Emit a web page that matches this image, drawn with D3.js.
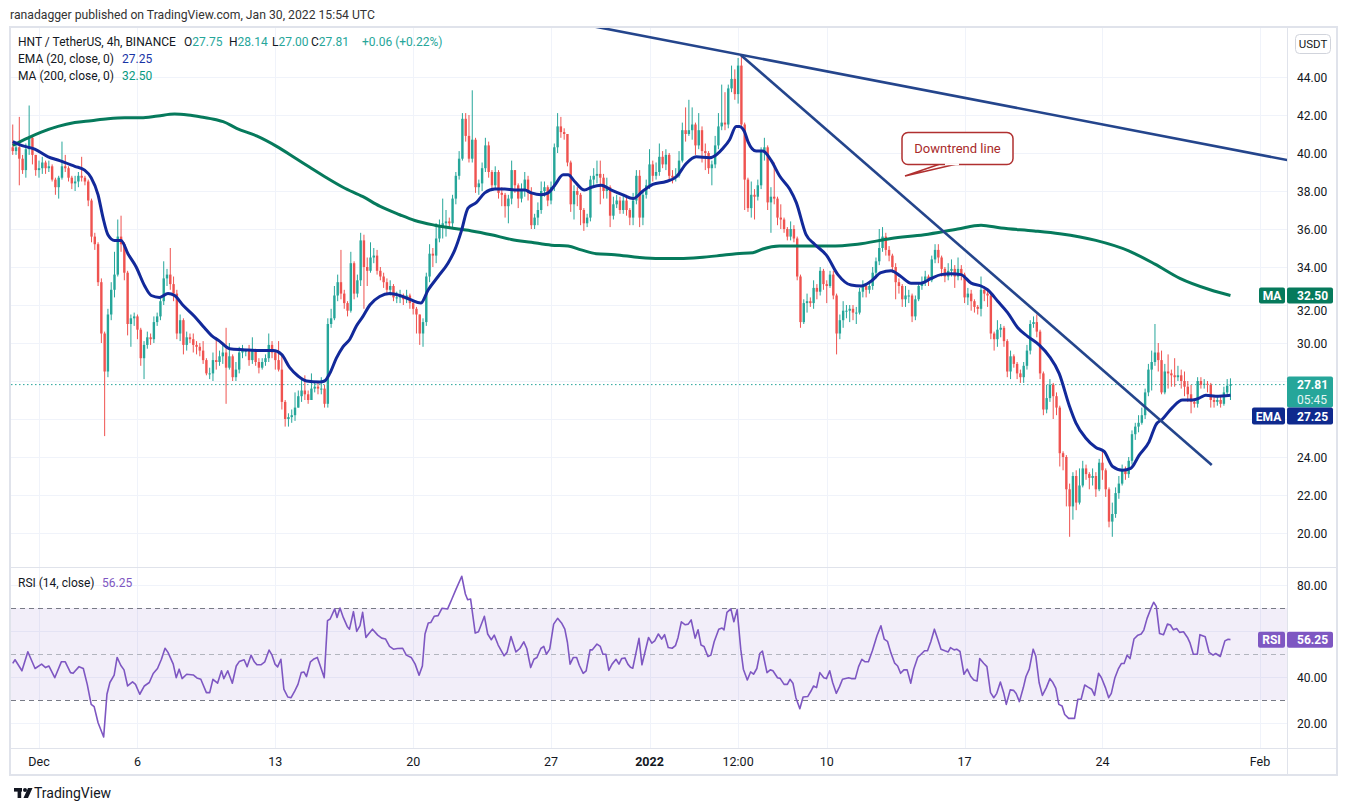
<!DOCTYPE html>
<html><head><meta charset="utf-8">
<script src="https://cdn.jsdelivr.net/npm/d3@7"></script>
<style>body{margin:0;background:#fff;}svg{display:block;font-family:Roboto,"Noto Sans",sans-serif;}</style>
</head><body><svg id="c" width="1347" height="811"></svg>
<script>
// ---------- DATA ----------
const startTime = Date.UTC(2021, 10, 29, 16); // first 4h candle
const stepMs = 4 * 3600 * 1000;
const firstOpen = 40.3;
const closes = [
40.1,40.3,39.7,39.1,40.2,40.8,39.9,39.1,39.2,39.5,
39.2,39.3,38.6,38.2,38.7,39.3,39.2,38.7,38.4,38.5,
38.8,38.7,38.5,37.5,35.6,35.2,33.2,30.5,28.5,31.5,
32.8,33.6,35.6,35.2,33.7,31.0,31.3,31.4,30.7,29.2,
29.9,30.3,30.2,31.1,31.4,32.2,33.4,33.6,33.1,32.6,
30.5,31.2,29.9,30.3,30.2,29.9,29.8,29.6,29.1,28.4,
28.4,29.1,29.0,29.3,29.5,28.7,29.3,28.2,28.6,29.5,
29.6,29.6,29.1,29.6,29.0,28.7,29.0,29.2,29.9,29.5,
29.1,28.6,26.9,26.0,26.1,26.2,26.6,27.2,27.5,27.3,
27.0,27.6,27.7,27.6,27.6,26.8,31.0,31.3,32.5,33.2,
32.6,32.1,31.7,34.2,32.6,33.3,35.4,34.0,33.8,34.5,
34.6,33.8,33.5,33.2,32.8,33.0,32.4,32.4,32.5,32.3,
32.5,32.1,31.8,31.5,30.5,31.1,33.5,34.7,34.6,35.5,
36.1,36.3,36.4,36.3,37.6,38.8,39.7,41.8,40.9,39.7,
40.7,38.2,38.4,39.2,40.4,39.0,38.3,39.0,37.9,37.8,
37.2,37.6,39.1,38.3,37.6,38.0,38.6,37.9,36.2,36.6,
37.0,38.0,38.2,37.5,38.2,40.3,41.4,41.1,41.0,39.5,
37.3,38.0,37.8,37.0,36.3,36.6,38.6,38.8,38.9,38.7,
38.0,38.2,36.7,37.3,37.5,37.0,37.5,37.0,36.6,37.5,
38.8,36.6,37.8,38.3,39.4,38.8,39.0,39.8,39.4,39.9,
38.8,38.7,38.8,39.6,41.2,41.0,41.2,41.5,40.4,41.2,
40.1,40.0,39.2,39.4,40.4,41.4,41.6,41.5,43.4,43.9,
43.1,44.6,41.5,38.6,37.1,37.8,37.7,38.3,40.1,40.3,
37.4,37.7,37.6,36.6,36.5,36.0,35.6,36.0,35.5,33.5,
31.1,32.1,32.2,32.1,32.9,32.7,33.8,33.1,33.0,33.6,
32.5,30.5,31.2,31.7,31.7,31.8,31.6,31.6,32.7,33.0,
32.8,33.0,33.7,34.3,35.0,35.6,34.9,34.6,34.0,33.2,
33.0,32.3,32.5,32.5,31.4,32.3,33.0,33.2,33.5,33.3,
34.4,34.9,34.5,33.9,33.5,33.8,33.9,33.5,33.9,33.6,
32.4,32.6,32.2,31.9,31.8,32.8,32.6,32.5,30.5,30.2,
30.7,30.8,30.1,28.5,29.3,28.9,28.4,28.2,28.8,29.6,
31.0,31.1,30.6,28.4,26.5,27.1,27.8,27.2,26.6,24.2,
24.0,22.3,21.4,23.0,21.6,22.5,23.4,23.1,22.9,23.0,
22.3,23.7,23.3,22.3,20.6,21.0,22.1,22.6,23.3,23.1,
23.8,25.2,25.6,25.8,26.2,27.4,28.6,29.0,29.5,29.1,
27.4,28.5,28.4,28.3,28.2,28.3,28.0,27.7,27.3,26.9,
26.8,28.0,27.8,27.85,27.8,27.0,26.9,27.0,26.8,27.4,27.75,27.81];
const highs = [
41.5,40.6,41.9,39.9,40.5,42.5,40.9,39.9,39.6,39.8,
39.6,39.6,39.4,38.7,38.8,40.6,39.9,39.3,38.8,38.8,
39.0,39.8,38.8,38.6,37.6,35.8,35.3,33.4,30.6,31.8,
33.2,34.8,36.5,36.7,35.3,33.8,31.5,31.6,31.5,30.8,
30.1,30.6,30.5,31.4,31.6,32.4,34.3,33.9,35.0,33.5,
32.8,31.5,31.3,30.6,30.5,30.5,30.1,30.0,30.1,29.2,
28.7,29.5,30.3,29.6,29.9,30.8,30.0,29.4,29.0,29.8,
29.9,29.7,29.9,30.3,29.7,29.2,29.2,29.4,30.5,30.1,
29.6,30.1,29.4,27.0,26.3,26.5,27.4,27.5,28.1,28.3,
27.5,28.4,28.0,28.0,28.2,27.8,31.3,31.8,33.0,33.6,
34.9,32.8,32.2,34.8,34.3,33.6,35.8,35.7,34.5,35.3,
35.0,34.9,34.0,33.7,33.4,33.3,33.1,32.7,32.8,32.6,
32.8,32.6,32.2,31.9,31.5,31.3,33.7,35.2,35.0,36.3,
36.5,37.6,37.0,36.6,37.8,39.0,40.1,42.1,42.1,42.0,
43.3,40.8,38.6,39.5,40.8,40.6,39.1,39.3,39.1,38.2,
37.9,37.8,39.6,39.1,38.4,38.4,39.0,38.8,38.2,36.8,
37.4,38.5,38.5,38.3,38.5,40.5,42.1,41.9,41.3,40.9,
39.6,38.3,38.2,37.9,37.1,36.8,38.8,39.2,39.6,39.6,
38.9,38.7,38.3,37.7,37.8,37.7,37.8,37.8,37.1,37.9,
39.1,39.1,38.0,38.6,40.2,39.6,39.5,40.5,40.1,40.2,
40.0,39.1,39.2,40.1,41.6,42.4,42.8,42.4,41.6,42.1,
41.4,40.5,40.1,39.6,40.9,42.1,43.6,43.2,43.6,44.6,
44.4,45.0,45.2,41.6,38.7,38.5,38.1,38.6,40.3,40.8,
40.4,38.2,39.5,37.7,37.3,36.6,36.1,36.4,36.2,35.6,
33.6,32.3,32.6,32.4,33.3,33.1,34.0,33.9,33.3,33.8,
33.8,32.6,31.5,32.2,32.0,32.0,32.0,31.9,32.9,33.3,
33.1,33.2,34.0,34.5,36.0,36.1,35.8,35.1,34.7,34.2,
33.4,33.1,33.0,32.8,32.6,32.5,33.2,33.5,33.8,33.6,
34.6,35.2,35.2,34.6,34.0,34.2,34.4,34.1,34.5,34.1,
33.7,32.9,32.8,32.3,32.0,33.5,33.0,32.8,32.6,30.6,
31.2,31.0,30.9,30.2,29.6,29.4,29.0,28.6,29.0,29.9,
31.2,31.4,31.5,30.7,28.5,27.8,28.1,27.9,27.4,26.7,
24.3,24.1,22.6,23.2,23.3,23.4,23.8,23.6,23.2,23.4,
23.2,23.9,24.4,23.4,22.4,21.6,22.4,23.0,23.6,23.5,
24.0,25.4,25.8,26.2,26.6,27.6,28.9,29.6,31.0,30.0,
29.6,28.9,29.4,28.6,29.2,28.8,28.6,28.5,28.0,27.8,
27.1,28.2,28.2,28.1,28.0,27.9,27.2,27.2,27.2,27.7,28.1,28.14];
const lows = [
39.9,39.9,38.3,38.9,38.7,39.9,39.4,38.8,38.7,38.9,
38.9,39.0,38.5,37.8,37.6,38.6,39.0,38.5,38.1,38.0,
38.2,38.5,38.3,37.2,35.3,34.9,33.0,30.0,25.1,28.2,
31.2,32.4,33.5,34.8,33.3,30.4,29.8,30.9,30.2,28.8,
28.1,29.7,29.9,30.0,30.9,31.2,32.0,33.0,32.8,32.2,
30.2,30.1,29.4,29.6,30.0,29.5,29.4,29.3,28.9,28.3,
28.1,28.0,28.6,28.8,28.9,26.8,28.6,28.0,28.0,28.4,
29.2,29.3,28.8,28.9,28.8,28.4,28.6,28.8,29.0,29.2,
28.6,28.5,26.5,25.6,25.6,25.8,25.9,26.6,26.9,27.0,
26.8,27.0,27.4,27.3,27.3,26.6,26.6,30.8,31.2,32.2,
32.3,31.8,31.4,31.6,32.3,32.4,33.0,31.8,33.0,33.7,
34.2,33.6,33.3,32.9,32.6,32.5,32.2,32.1,32.1,32.0,
32.1,31.8,31.5,30.5,29.9,29.8,30.9,33.2,34.0,34.2,
35.3,35.5,35.6,36.0,36.1,37.3,38.6,39.6,40.6,39.5,
39.5,37.9,37.8,38.0,39.0,38.7,38.0,38.1,37.6,37.2,
36.6,36.3,37.3,37.9,37.1,37.4,37.7,37.5,36.0,36.0,
36.2,36.8,37.7,37.2,37.3,38.0,40.0,40.8,40.7,39.3,
36.9,36.5,37.2,36.2,35.9,36.1,36.4,38.2,38.4,37.3,
37.6,37.6,36.1,36.5,37.1,36.8,36.8,36.7,36.2,36.2,
37.3,36.1,36.2,37.6,38.1,38.5,38.6,38.8,39.2,39.1,
38.5,38.4,38.5,38.7,39.5,40.6,40.9,40.7,39.9,40.2,
39.5,39.1,38.9,38.3,39.2,40.2,41.2,41.2,41.3,43.2,
42.8,42.6,41.3,37.0,36.9,36.6,36.5,37.5,38.1,39.6,
37.0,35.8,37.3,36.2,36.0,35.8,35.4,35.4,35.3,33.3,
30.8,31.0,31.6,31.9,31.8,32.3,32.5,32.8,32.1,32.9,
32.3,29.4,30.2,30.8,31.3,31.1,31.2,31.0,31.5,32.4,
32.4,32.6,32.8,33.4,34.1,34.8,34.6,34.3,33.7,32.3,
32.6,31.9,31.9,32.1,31.1,31.2,32.2,32.8,33.0,33.0,
33.2,34.2,34.2,33.5,33.2,33.3,33.5,32.9,33.3,33.3,
32.1,32.0,31.7,31.6,31.5,31.4,32.2,31.9,30.2,29.6,
29.8,30.3,29.8,28.2,28.1,28.7,28.1,27.9,27.9,28.6,
29.4,30.8,30.3,28.1,26.2,26.3,26.9,26.0,26.2,23.5,
23.3,21.4,19.8,20.7,21.2,21.5,22.4,22.8,22.3,22.5,
21.9,22.2,22.8,21.9,20.3,19.8,20.8,21.8,22.5,22.8,
22.9,23.6,24.9,25.3,25.7,26.0,27.2,27.5,28.8,28.5,
27.3,27.3,27.6,27.7,27.7,28.0,27.6,27.2,26.9,26.3,
26.6,26.6,27.6,27.6,27.4,26.6,26.6,26.7,26.6,26.7,27.3,27.0];
// EMA(20) and MA(200) as read: [candle index, value]
const emaPts = [[0,40.6],[2.6,40.4],[6.7,40.2],[10.8,39.8],[14.3,39.6],[18.9,39.3],[21.9,39.1],[23.9,38.7],[26,37.8],[27.5,36.6],[29,35.7],[31,35.4],[33,35.4],[35.1,34.7],[37.6,34.0],[40.2,33.0],[42.2,32.5],[44.7,32.4],[47.3,32.6],[49.3,32.5],[51.8,32.0],[55.4,31.4],[58.4,30.8],[60.5,30.4],[63,30.1],[66.1,29.7],[70.2,29.65],[75.3,29.6],[79.3,29.6],[81.9,29.4],[84.4,28.7],[87,28.25],[89.5,28.0],[93.5,27.95],[95,28.0],[96.6,28.4],[98.6,29.2],[100.6,29.8],[102.7,30.2],[104.7,30.9],[106.7,31.4],[108.8,32.0],[111.8,32.45],[114.9,32.6],[117.9,32.5],[121,32.3],[124.3,32.1],[126.6,32.8],[129.6,33.5],[132.6,34.2],[134.7,34.9],[136.7,35.9],[138.7,37.1],[141.3,37.4],[143.8,37.9],[146.9,38.1],[149.9,38.1],[152.9,38.05],[156,38.05],[158,37.9],[161,37.8],[163.1,37.9],[165.1,38.3],[167.7,38.85],[169.2,38.85],[171.2,38.5],[174.2,38.05],[176.3,38.2],[179.3,38.3],[182.4,38.05],[185.9,37.8],[189,37.6],[192,38.0],[195,38.35],[199.1,38.5],[202.2,38.75],[205.2,39.45],[208.2,39.8],[212.3,39.75],[214.3,39.9],[216.4,40.25],[218.4,40.7],[220.4,41.4],[221.4,41.4],[223,41.1],[224,40.6],[226.5,40.1],[228.5,40.1],[231.1,39.6],[233.6,38.8],[236.7,38.1],[238.7,37.4],[241.7,35.7],[244.3,35.2],[248,34.6],[251.4,33.6],[255.4,33.05],[258.5,33.0],[261.5,33.25],[264.5,33.7],[267.6,33.8],[270.6,33.5],[273.7,33.15],[276.7,33.15],[279.8,33.4],[282.8,33.6],[285.9,33.65],[288.9,33.6],[292,33.15],[295,33.0],[297,32.8],[300.1,32.2],[303.1,31.6],[306.2,30.8],[309.2,30.35],[312.7,29.9],[315.8,29.3],[318.8,28.4],[321.9,26.7],[323.9,25.8],[326.9,25.0],[330,24.5],[332.5,24.3],[335.1,23.5],[338.1,23.3],[340.6,23.4],[343.2,24.1],[346.2,24.8],[348.3,25.7],[350.3,26.0],[353.3,26.6],[356.4,27.0],[359.4,27.0],[361.5,27.1],[363.5,27.25],[366.5,27.2],[371,27.25]];
const maPts = [[0,40.4],[4.7,40.8],[8.7,41.1],[13.8,41.4],[18.9,41.6],[23.9,41.7],[29,41.8],[34.1,41.85],[39.1,41.85],[44.2,41.95],[49.3,42.05],[53.4,42.0],[57.4,41.9],[62,41.75],[64.1,41.65],[68.2,41.3],[74.3,40.9],[80.4,40.35],[86.4,39.7],[90.5,39.25],[95.6,38.7],[100.6,38.2],[106.7,37.7],[111.8,37.2],[117.9,36.75],[122.5,36.45],[128.6,36.2],[135.7,36.0],[139.8,35.9],[145.8,35.7],[151.9,35.45],[158,35.3],[164.1,35.15],[169.2,35.1],[173.2,34.9],[177.8,34.7],[183.4,34.65],[191,34.5],[197.1,34.45],[203.2,34.45],[209.3,34.5],[215.3,34.6],[220.4,34.7],[225.5,34.75],[228.5,34.95],[233.6,35.1],[238.7,35.1],[243.8,35.1],[248.8,35.1],[257.4,35.2],[267.6,35.5],[277.7,35.7],[287.9,36.0],[295,36.2],[301.1,36.05],[311.2,35.9],[319,35.75],[330,35.4],[340,34.85],[348,34.15],[355.6,33.4],[364.8,32.8],[371,32.5]];
const rsiPts = [[0,45.9],[0.7,47.5],[2.8,42.7],[4.6,51.0],[6.8,43.7],[8.8,45.6],[10,44.1],[11,44.8],[12.8,39.7],[14.8,46.6],[16,46.6],[17.6,41.9],[18.4,41.6],[20.2,44.5],[21.5,43.7],[22.7,36.8],[23.9,28.1],[24.8,27.1],[26,20.1],[27.7,13.9],[28.7,32.5],[29.6,37.6],[30.9,40.8],[31.8,48.5],[32.9,45.1],[33.9,43.1],[35,36.1],[36.5,37.9],[37.4,36.8],[38.7,32.5],[40.1,36.1],[41.6,37.6],[42.8,41.5],[44.1,43.7],[45.3,47.7],[46.4,52.5],[47.3,50.7],[48.9,45.6],[49.8,39.7],[50.7,43.4],[51.6,39.3],[53,41.2],[55,40.9],[56.1,39.6],[57.3,39.0],[59,33.2],[60,33.2],[61,39.0],[62.4,37.3],[63.6,42.7],[64.3,39.3],[65.5,42.7],[66.9,37.3],[68.1,44.8],[69,46.7],[70.5,47.5],[71.4,44.5],[72.6,49.5],[73.6,46.6],[74.4,45.3],[75.6,45.3],[76.8,46.6],[78.1,51.7],[79,49.5],[79.9,45.6],[80.7,44.4],[81.7,47.7],[82.6,34.7],[83.8,31.3],[84.8,31.0],[85.9,33.9],[86.9,36.8],[87.9,41.9],[88.7,42.2],[89.5,40.2],[90.7,46.6],[91.6,47.7],[92.8,48.5],[93.7,44.8],[94.9,39.7],[95.9,64.5],[96.7,65.2],[98.1,69.6],[98.8,65.9],[99.7,70.0],[100.7,65.9],[101.9,62.0],[102.6,60.8],[103.8,68.4],[104.8,59.8],[105.8,62.3],[106.6,68.1],[107.6,57.2],[108.4,58.7],[109.6,60.8],[111.2,58.2],[112.4,56.9],[113.6,56.5],[114.8,53.3],[116,52.1],[117.2,52.4],[118.8,52.5],[119.9,49.5],[121.4,48.5],[122.6,45.6],[123.8,40.8],[124.8,44.8],[125.6,58.7],[126.6,63.5],[127.4,63.7],[128.4,66.4],[129.6,66.7],[130.8,69.9],[132.5,69.6],[133.7,73.6],[135,78.0],[136.8,83.8],[137.9,76.1],[138.6,73.6],[139.5,73.9],[140.9,59.1],[141.9,59.7],[143.7,66.4],[144.7,58.7],[145.8,56.2],[146.7,58.2],[147.9,53.9],[149.7,49.2],[150.6,50.7],[151.8,57.6],[153.3,50.9],[154.5,52.4],[155.7,55.3],[156.6,52.4],[157.8,44.1],[158.8,47.7],[159.7,48.5],[160.9,52.4],[161.8,53.3],[162.6,49.9],[163.6,52.1],[164.8,63.0],[166,65.5],[167.2,63.5],[168.2,60.8],[169,55.0],[169.8,45.6],[170.8,48.5],[171.8,48.5],[172.6,45.1],[173.8,41.6],[174.7,42.7],[175.9,51.8],[176.6,51.8],[178,54.3],[179,53.3],[179.8,49.9],[180.7,49.9],[181.6,42.9],[182.6,45.6],[183.8,47.7],[184.7,45.6],[185.5,48.0],[186.5,48.3],[187.4,45.6],[188.2,44.2],[188.9,43.8],[190.8,56.8],[191.7,45.3],[193.7,57.2],[194.7,54.7],[195.6,55.7],[196.7,58.7],[197.7,56.5],[198.6,58.4],[199.7,52.8],[200.9,52.5],[201.9,53.6],[202.7,57.2],[203.7,64.0],[204.9,62.7],[205.8,63.0],[206.7,64.8],[207.9,56.9],[208.8,60.5],[209.7,53.9],[210.6,53.3],[211.8,48.9],[212.7,49.5],[213.7,55.3],[215.1,60.8],[216.1,61.3],[216.7,60.5],[217.6,68.1],[218.8,69.6],[219.7,64.0],[220.7,69.3],[221.8,52.1],[222.6,43.4],[223.8,38.7],[224.8,42.2],[225.7,41.2],[226.7,43.7],[227.6,50.2],[228.4,51.3],[229.8,41.9],[230.8,43.1],[231.6,42.7],[233,39.7],[233.8,39.4],[235,36.8],[236,36.8],[236.8,39.0],[237.7,37.3],[238.6,31.0],[239.8,26.2],[240.8,31.3],[242.2,31.5],[243.2,33.9],[244,36.1],[244.9,35.4],[245.9,41.9],[247.1,39.7],[247.9,39.3],[248.9,42.7],[249.8,37.6],[250.9,32.9],[251.9,35.8],[252.8,39.0],[254.7,39.7],[255.5,39.3],[256.7,39.3],[257.7,44.5],[258.7,47.7],[259.7,46.6],[260.7,46.6],[261.9,51.4],[263.3,57.9],[264.5,62.3],[265.5,56.5],[266.5,55.5],[267.5,50.7],[268.7,46.0],[269.6,44.8],[270.5,41.6],[271.5,43.1],[272.5,43.1],[273.6,37.3],[274.5,43.4],[275.7,48.5],[276.8,50.0],[277.8,51.4],[278.7,51.4],[279.7,55.3],[280.8,60.8],[281.8,56.5],[282.8,52.1],[284,51.4],[285,50.9],[285.7,52.8],[286.8,51.8],[287.6,52.1],[288.6,51.1],[289.8,41.2],[290.8,43.4],[291.9,40.2],[292.8,38.7],[293.8,38.3],[294.6,48.0],[295.8,46.0],[296.8,44.5],[297.9,33.2],[298.9,31.0],[299.8,32.9],[300.9,37.8],[301.9,33.2],[302.7,28.1],[303.9,34.4],[304.9,34.2],[305.7,32.8],[306.7,29.3],[307.9,35.4],[308.7,40.2],[309.7,43.4],[310.9,52.1],[311.7,49.0],[312.7,37.6],[313.7,32.0],[314.9,35.4],[316,39.3],[316.9,37.6],[317.8,35.1],[318.7,28.1],[319.7,27.4],[320.5,23.7],[321.7,22.0],[323.5,22.0],[324.5,30.3],[325.5,30.3],[326.6,36.5],[327.5,35.7],[328.7,34.7],[329.6,32.0],[330.8,41.6],[331.7,39.7],[332.9,35.4],[333.9,31.0],[334.7,32.9],[335.8,39.7],[336.8,43.4],[337.8,45.9],[338.6,45.9],[339.5,49.5],[340.4,48.0],[341.6,56.5],[342.8,58.2],[343.8,58.7],[344.6,60.4],[345.6,65.5],[346.7,69.6],[347.6,72.5],[348.4,70.7],[349.4,58.9],[350.6,58.4],[351.8,63.0],[352.7,62.6],[353.6,60.5],[354.6,61.1],[355.5,59.4],[356.7,59.7],[357.9,57.2],[358.7,54.7],[359.7,49.9],[360.9,49.9],[361.7,58.4],[363.3,57.5],[364.5,50.7],[365.7,49.5],[366.5,50.2],[367.9,48.9],[369.3,55.7],[370.3,56.4],[371,56.25]];
// trend lines: [candle index, price] endpoints
const trendLines = [[[176.8,46.67],[388.3,39.63]], [[221.8,45.16],[365.3,23.58]]];
const priceTicks = [20,22,24,26,28,30,32,34,36,38,40,42,44];
const rsiTicks = [20,40,60,80];
const dateTicks = [["2021-12-01","Dec"],["2021-12-06","6"],["2021-12-13","13"],["2021-12-20","20"],["2021-12-27","27"],["2022-01-01","2022"],["2022-01-05T12:00","12:00"],["2022-01-10","10"],["2022-01-17","17"],["2022-01-24","24"],["2022-02-01","Feb"]];
const lastPrice = 27.81, emaLast = 27.25, maLast = 32.50, rsiLast = 56.25;

// ---------- LAYOUT ----------
const svg = d3.select("#c");
const L = 11, R = 1287, T = 28, MB = 567, RT = 568, RB = 748;
const UP = "#26a69a", DN = "#ef5350", GRID = "#f0f3fa", BORDER = "#e0e3eb", TXT = "#131722";
const EMAC = "#12299a", MAC = "#067a5c", TLC = "#24458c", RSIC = "#7e57c2";

const x = d3.scaleUtc().domain([Date.UTC(2021,11,1), Date.UTC(2022,1,1)]).range([39, 1260]);
const xi = i => x(new Date(startTime + i * stepMs));
const y = d3.scaleLinear().domain([20, 44]).range([533, 77]);
const yr = d3.scaleLinear().domain([20, 80]).range([723, 585]);

svg.append("rect").attr("width",1347).attr("height",811).attr("fill","#fff");
const defs = svg.append("defs");
defs.append("clipPath").attr("id","cm").append("rect").attr("x",L).attr("y",T).attr("width",R-L).attr("height",MB-T);
defs.append("clipPath").attr("id","cr").append("rect").attr("x",L).attr("y",RT).attr("width",R-L).attr("height",RB-RT);

// grid
const g = svg.append("g");
const parseT = s => new Date(s + (s.length > 10 ? ":00Z" : "T00:00:00Z"));
dateTicks.forEach(([d]) => {
  const xx = Math.round(x(parseT(d))) + 0.5;
  g.append("line").attr("x1",xx).attr("x2",xx).attr("y1",T).attr("y2",RB).attr("stroke",GRID);
});
priceTicks.forEach(p => {
  const yy = Math.round(y(p)) + 0.5;
  g.append("line").attr("x1",L).attr("x2",R).attr("y1",yy).attr("y2",yy).attr("stroke",GRID);
});
rsiTicks.forEach(v => {
  const yy = Math.round(yr(v)) + 0.5;
  g.append("line").attr("x1",L).attr("x2",R).attr("y1",yy).attr("y2",yy).attr("stroke",GRID);
});

// RSI band
g.append("rect").attr("x",L).attr("y",yr(70)).attr("width",R-L).attr("height",yr(30)-yr(70)).attr("fill","rgba(126,87,194,0.1)");
[[70,"#787b86"],[30,"#787b86"],[50,"#b2b5be"]].forEach(([v,c]) => {
  g.append("line").attr("x1",L).attr("x2",R).attr("y1",Math.round(yr(v))+0.5).attr("y2",Math.round(yr(v))+0.5)
   .attr("stroke",c).attr("stroke-dasharray","5,4");
});

// borders
const fb = svg.append("g").attr("stroke",BORDER).attr("fill","none");
fb.append("rect").attr("x",10).attr("y",27).attr("width",1327).attr("height",748).attr("stroke-width",2);
fb.append("line").attr("x1",R+0.5).attr("x2",R+0.5).attr("y1",27).attr("y2",775);
fb.append("line").attr("x1",10).attr("x2",1337).attr("y1",567.5).attr("y2",567.5);
fb.append("line").attr("x1",10).attr("x2",1337).attr("y1",748.5).attr("y2",748.5);

// main pane
const mp = svg.append("g").attr("clip-path","url(#cm)");
mp.append("line").attr("x1",L).attr("x2",R).attr("y1",y(lastPrice)).attr("y2",y(lastPrice))
  .attr("stroke",UP).attr("stroke-width",1).attr("stroke-dasharray","1.5,2.5");

const n = Math.min(closes.length, highs.length, lows.length);
const candles = d3.range(n).map(i => ({i, o: i ? closes[i-1] : firstOpen, c: closes[i], h: highs[i], l: lows[i]}));
const cg = mp.append("g");
cg.selectAll("line.w").data(candles).join("line")
  .attr("x1", d => xi(d.i)).attr("x2", d => xi(d.i))
  .attr("y1", d => y(Math.max(d.h, d.o, d.c))).attr("y2", d => y(Math.min(d.l, d.o, d.c)))
  .attr("stroke", d => d.c >= d.o ? UP : DN).attr("stroke-width",1);
cg.selectAll("rect").data(candles).join("rect")
  .attr("x", d => xi(d.i) - 1.2).attr("width", 2.4)
  .attr("y", d => y(Math.max(d.o, d.c)))
  .attr("height", d => Math.max(1, Math.abs(y(d.o) - y(d.c))))
  .attr("fill", d => d.c >= d.o ? UP : DN);

const lineGen = d3.line().x(d => xi(d[0])).y(d => y(d[1])).curve(d3.curveMonotoneX);
mp.append("path").attr("d", lineGen(maPts)).attr("fill","none").attr("stroke",MAC).attr("stroke-width",3);
mp.append("path").attr("d", lineGen(emaPts)).attr("fill","none").attr("stroke",EMAC).attr("stroke-width",3);
const tl = d3.line().x(d => xi(d[0])).y(d => y(d[1]));
trendLines.forEach(t => mp.append("path").attr("d", tl(t)).attr("fill","none").attr("stroke",TLC).attr("stroke-width",2.6));

// callout
const co = svg.append("g");
co.append("path").attr("d","M943,163 L905,176 L961,163 Z").attr("fill","#fff").attr("stroke","#b03030").attr("stroke-width",1.5);
co.append("rect").attr("x",902).attr("y",132.5).attr("width",111).attr("height",32).attr("rx",6)
  .attr("fill","#fff").attr("stroke","#b03030").attr("stroke-width",1.5);
co.append("path").attr("d","M945,164.2 L959,164.2").attr("stroke","#fff").attr("stroke-width",2);
co.append("text").attr("x",957.5).attr("y",153).attr("text-anchor","middle").attr("font-size",13).attr("fill","#a82a2a").text("Downtrend line");

// RSI pane
const rp = svg.append("g").attr("clip-path","url(#cr)");
rp.append("path").attr("d", d3.line().x(d => xi(d[0])).y(d => yr(d[1]))(rsiPts))
  .attr("fill","none").attr("stroke",RSIC).attr("stroke-width",1.6).attr("stroke-linejoin","round");

// right axis labels (ticks hidden behind value tags are skipped, as in the reference)
const ax = svg.append("g").attr("font-size",12).attr("fill",TXT);
const hiddenPrice = [26, 28], hiddenRsi = [60];
priceTicks.filter(p => !hiddenPrice.includes(p)).forEach(p =>
  ax.append("text").attr("x",1297).attr("y",y(p) + (p === 32 ? 9.5 : 4.5)).text(p.toFixed(2)));
rsiTicks.filter(v => !hiddenRsi.includes(v)).forEach(v => ax.append("text").attr("x",1297).attr("y",yr(v)+4.5).text(v.toFixed(2)));
svg.append("rect").attr("x",1295.5).attr("y",34.5).attr("width",35).attr("height",19).attr("rx",4).attr("fill","#fff").attr("stroke","#d1d4dc");
svg.append("text").attr("x",1313).attr("y",48).attr("text-anchor","middle").attr("font-size",11.5).attr("fill",TXT).text("USDT");

function tag(xa, w, cy, h, fill, txt){
  svg.append("rect").attr("x",xa).attr("y",cy-h/2).attr("width",w).attr("height",h).attr("rx",2).attr("fill",fill);
  svg.append("text").attr("x",xa+w/2).attr("y",cy+4.5).attr("text-anchor","middle").attr("font-size",12).attr("font-weight","bold").attr("fill","#fff").text(txt);
}
function vtag(cy, h, fill, txt){
  svg.append("rect").attr("x",1287).attr("y",cy-h/2).attr("width",46).attr("height",h).attr("rx",2).attr("fill",fill);
  svg.append("text").attr("x",1297).attr("y",cy+4.5).attr("font-size",12).attr("font-weight","bold").attr("fill","#fff").text(txt);
}
tag(1259, 26, y(maLast), 16, MAC, "MA"); vtag(y(maLast), 16, MAC, maLast.toFixed(2));
svg.append("rect").attr("x",1287).attr("y",y(lastPrice)-8).attr("width",46).attr("height",31).attr("rx",2).attr("fill",UP);
svg.append("text").attr("x",1297).attr("y",y(lastPrice)+4).attr("font-size",12).attr("font-weight","bold").attr("fill","#fff").text(lastPrice.toFixed(2));
svg.append("text").attr("x",1297).attr("y",y(lastPrice)+19.5).attr("font-size",12).attr("fill","#e6f6f4").text("05:45");
const emaY = y(lastPrice) + 23 + 8.5;
tag(1252, 33, emaY, 17, "#0f2a8e", "EMA"); vtag(emaY, 17, "#0f2a8e", emaLast.toFixed(2));
tag(1258, 27, yr(rsiLast), 16, RSIC, "RSI"); vtag(yr(rsiLast), 16, RSIC, rsiLast.toFixed(2));

// bottom axis labels
dateTicks.forEach(([d, lab]) => {
  svg.append("text").attr("x", x(parseT(d))).attr("y", 766).attr("text-anchor","middle")
    .attr("font-size",12.5).attr("fill",TXT).attr("font-weight", lab === "2022" ? "bold" : "normal").text(lab);
});

// header & legends
svg.append("text").attr("x",10).attr("y",19).attr("font-size",12.2).attr("fill","#333").text("ranadagger published on TradingView.com, Jan 30, 2022 15:54 UTC");
const lg = svg.append("g").attr("font-size",12).attr("fill",TXT);
const l1 = lg.append("text").attr("x",18).attr("y",46);
l1.append("tspan").text("HNT / TetherUS, 4h, BINANCE");
[["O","27.75",184],["H","28.14",229],["L","27.00",272],["C","27.81",311]].forEach(([k,v,xx]) => {
  l1.append("tspan").attr("x",xx).text(k);
  l1.append("tspan").attr("fill",UP).text(v);
});
l1.append("tspan").attr("x",362).attr("fill",UP).text("+0.06 (+0.22%)");
const l2 = lg.append("text").attr("x",18).attr("y",63);
l2.append("tspan").text("EMA (20, close, 0)");
l2.append("tspan").attr("x",122).attr("fill","#1734a6").text(emaLast.toFixed(2));
const l3 = lg.append("text").attr("x",18).attr("y",80);
l3.append("tspan").text("MA (200, close, 0)");
l3.append("tspan").attr("x",122).attr("fill","#089981").text(maLast.toFixed(2));
const l4 = lg.append("text").attr("x",18).attr("y",587);
l4.append("tspan").text("RSI (14, close)");
l4.append("tspan").attr("x",102).attr("fill",RSIC).text(rsiLast.toFixed(2));

// footer logo
const lo = svg.append("g").attr("fill","#131722");
lo.append("rect").attr("x",14).attr("y",788).attr("width",8).attr("height",3.6);
lo.append("rect").attr("x",17.6).attr("y",788).attr("width",3.6).attr("height",10);
lo.append("circle").attr("cx",25).attr("cy",790).attr("r",2);
lo.append("path").attr("d","M28,788 L32.5,788 L28,798 L23.5,798 Z");
svg.append("text").attr("x",34).attr("y",798).attr("font-size",14).attr("fill","#131722").text("TradingView");
</script></body></html>
